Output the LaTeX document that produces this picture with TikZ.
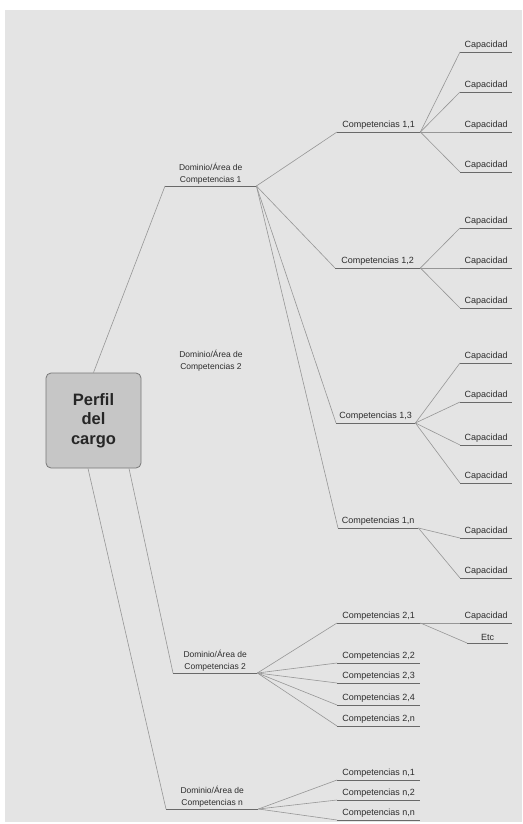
\documentclass[tikz,border=0pt]{standalone}
\usepackage{fontspec}
\setmainfont{Liberation Sans}
\definecolor{bg}{RGB}{228,228,228}
\definecolor{txt}{RGB}{45,45,45}
\definecolor{conncol}{RGB}{150,150,150}
\definecolor{ulcol}{RGB}{105,105,105}
\definecolor{rootfill}{RGB}{198,198,198}
\definecolor{rootdraw}{RGB}{120,120,120}
\tikzset{
  ul/.style={anchor=south west, minimum width=#1, inner xsep=0pt, inner ysep=2pt,
    font=\fontsize{9}{10}\selectfont, text=txt},
  dom/.style={anchor=south west, minimum width=#1, inner xsep=0pt, inner ysep=2pt,
    align=center, font=\fontsize{8.5}{12}\selectfont, text=txt},
  conn/.style={draw=conncol, line width=0.6pt},
  uline/.style={draw=ulcol, line width=0.7pt},
  rootbox/.style={draw=rootdraw, line width=0.8pt, fill=rootfill, rounded corners=5pt,
    minimum width=95pt, minimum height=95pt, align=center,
    font=\fontsize{16.5}{19.5}\selectfont\bfseries, text=black!85}
}
\begin{document}
\begin{tikzpicture}[x=1pt,y=-1pt]
\useasboundingbox (0,0) rectangle (522,824);
\fill[white] (0,0) rectangle (522,824);
\fill[bg] (5,10) rectangle (522,822);

% root
\node[rootbox] (root) at (93.5,420.5) {Perfil\\del\\cargo};

% domains
\node[dom=91pt] (d1) at (165,186) {Dominio/Área de\\Competencias 1};
\node[align=center, font=\fontsize{8.5}{12}\selectfont, text=txt] (d2m) at (211,361) {Dominio/Área de\\Competencias 2};
\node[dom=84pt] (d2) at (173,673) {Dominio/Área de\\Competencias 2};
\node[dom=92pt] (dn) at (166,809) {Dominio/Área de\\Competencias n};

% competencias
\node[ul=83pt] (c11) at (337,132) {Competencias 1,1};
\node[ul=85pt] (c12) at (335,268) {Competencias 1,2};
\node[ul=79pt] (c13) at (336,423) {Competencias 1,3};
\node[ul=80pt] (c1n) at (338,528) {Competencias 1,n};
\node[ul=83pt] (c21) at (337,623) {Competencias 2,1};
\node[ul=83pt] (c22) at (337,663) {Competencias 2,2};
\node[ul=83pt] (c23) at (337,683) {Competencias 2,3};
\node[ul=83pt] (c24) at (337,705) {Competencias 2,4};
\node[ul=83pt] (c2n) at (337,726) {Competencias 2,n};
\node[ul=83pt] (cn1) at (337,780) {Competencias n,1};
\node[ul=83pt] (cn2) at (337,800) {Competencias n,2};
\node[ul=83pt] (cnn) at (337,820) {Competencias n,n};

% capacidades
\foreach \n/\y in {a1/52,a2/92,a3/132,a4/172,b1/228,b2/268,b3/308,
                   e1/363,e2/402,e3/445,e4/483,f1/538,f2/578,g1/623}{
  \node[ul=52pt] (k\n) at (460,\y) {Capacidad};
}
\node[ul=41pt] (etc) at (467,643) {Etc};

% underlines
\foreach \m in {d1,d2,dn,c11,c12,c13,c1n,c21,c22,c23,c24,c2n,cn1,cn2,cnn,
                ka1,ka2,ka3,ka4,kb1,kb2,kb3,ke1,ke2,ke3,ke4,kf1,kf2,kg1,etc}{
  \draw[uline] (\m.south west) -- (\m.south east);
}

% connectors from root
\draw[conn] (root.north) -- (d1.south west);
\draw[conn] ([xshift=35.5pt]root.south) -- (d2.south west);
\draw[conn] ([xshift=-5.5pt]root.south) -- (dn.south west);

% domain 1
\foreach \c in {c11,c12,c13,c1n}{ \draw[conn] (d1.south east) -- (\c.south west); }
% domain 2
\foreach \c in {c21,c22,c23,c24,c2n}{ \draw[conn] (d2.south east) -- (\c.south west); }
% domain n
\foreach \c in {cn1,cn2,cnn}{ \draw[conn] (dn.south east) -- (\c.south west); }

% competencias to capacidades
\foreach \k in {ka1,ka2,ka3,ka4}{ \draw[conn] (c11.south east) -- (\k.south west); }
\foreach \k in {kb1,kb2,kb3}{ \draw[conn] (c12.south east) -- (\k.south west); }
\foreach \k in {ke1,ke2,ke3,ke4}{ \draw[conn] (c13.south east) -- (\k.south west); }
\foreach \k in {kf1,kf2}{ \draw[conn] (c1n.south east) -- (\k.south west); }
\draw[conn] (c21.south east) -- (kg1.south west);
\draw[conn] (c21.south east) -- (etc.south west);
\end{tikzpicture}
\end{document}
